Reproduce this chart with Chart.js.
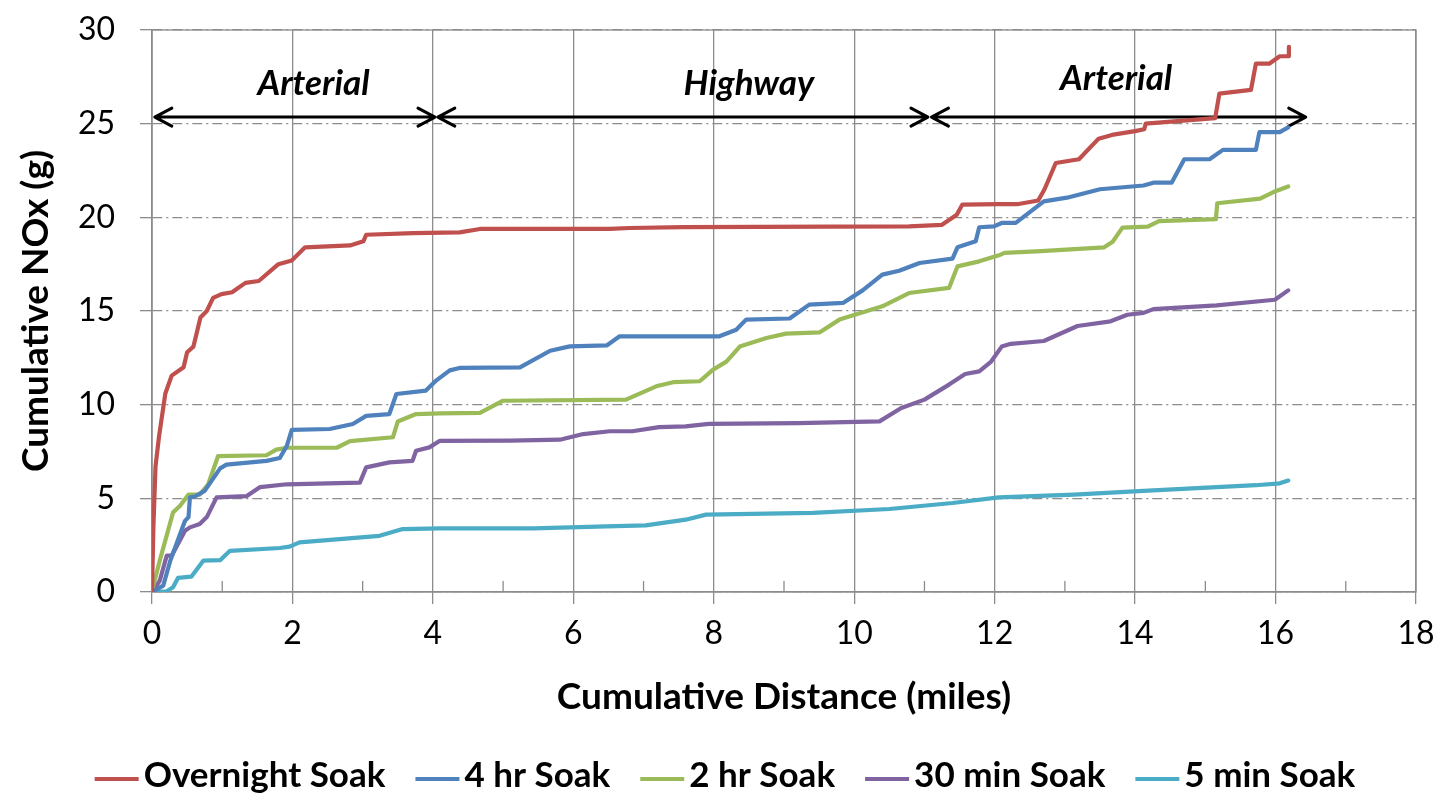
<!DOCTYPE html>
<html>
<head>
<meta charset="utf-8">
<script src="https://cdn.jsdelivr.net/npm/chart.js@4.4.1/dist/chart.umd.min.js"></script>
<style>
  html, body { margin: 0; padding: 0; background: #fff; }
  #wrap { width: 1450px; height: 800px; }
</style>
</head>
<body>
<div id="wrap"><canvas id="chart" width="1450" height="800"></canvas></div>
<script>
// series (miles, grams)
const seriesNames = ['Overnight Soak', '4 hr Soak', '2 hr Soak', '30 min Soak', '5 min Soak']
const seriesColors = ['#C0504D', '#4F81BD', '#9BBB59', '#8064A2', '#4BACC6']

const overnightX = [0, 0.02, 0.05, 0.1, 0.19, 0.28, 0.45, 0.5, 0.59, 0.69, 0.78, 0.87, 0.99, 1.14, 1.33, 1.52, 1.8, 1.99, 2.18, 2.82, 3.01, 3.05, 3.72, 4.38, 4.67, 6.52, 6.8, 7.56, 10.78, 11.25, 11.46, 11.54, 12.06, 12.32, 12.62, 12.71, 12.87, 13.2, 13.48, 13.67, 14.0, 14.13, 14.15, 15.14, 15.2, 15.65, 15.72, 15.91, 16.06, 16.18, 16.19]
const overnightY = [0, 3.5, 6.7, 8.3, 10.6, 11.55, 12.0, 12.8, 13.1, 14.65, 15.0, 15.7, 15.9, 16.0, 16.5, 16.6, 17.5, 17.7, 18.4, 18.5, 18.72, 19.07, 19.16, 19.2, 19.38, 19.38, 19.43, 19.48, 19.52, 19.6, 20.14, 20.68, 20.7, 20.7, 20.9, 21.5, 22.9, 23.1, 24.2, 24.4, 24.6, 24.7, 25.0, 25.3, 26.6, 26.8, 28.2, 28.2, 28.6, 28.6, 29.1]

const fourHrX = [0, 0.16, 0.26, 0.47, 0.52, 0.54, 0.61, 0.75, 0.97, 1.06, 1.63, 1.82, 1.92, 1.99, 2.53, 2.86, 3.05, 3.38, 3.48, 3.9, 4.05, 4.24, 4.38, 5.24, 5.67, 5.95, 6.48, 6.66, 8.08, 8.32, 8.46, 9.08, 9.36, 9.84, 10.12, 10.4, 10.64, 10.93, 11.4, 11.47, 11.73, 11.78, 11.99, 12.1, 12.3, 12.7, 13.03, 13.5, 14.12, 14.26, 14.52, 14.7, 15.06, 15.25, 15.72, 15.77, 16.06, 16.18]
const fourHrY = [0, 0.34, 1.67, 3.8, 4.0, 5.05, 5.1, 5.4, 6.6, 6.8, 7.0, 7.15, 7.8, 8.65, 8.7, 8.97, 9.4, 9.5, 10.57, 10.75, 11.3, 11.83, 11.96, 11.99, 12.88, 13.11, 13.17, 13.65, 13.65, 14.0, 14.54, 14.6, 15.34, 15.43, 16.1, 16.94, 17.15, 17.56, 17.8, 18.4, 18.72, 19.47, 19.52, 19.7, 19.7, 20.85, 21.05, 21.5, 21.7, 21.85, 21.85, 23.1, 23.1, 23.6, 23.6, 24.55, 24.55, 24.8]

const twoHrX = [0, 0.11, 0.3, 0.4, 0.52, 0.68, 0.8, 0.94, 1.63, 1.77, 1.92, 2.63, 2.82, 3.43, 3.5, 3.76, 4.1, 4.67, 5.0, 6.75, 7.18, 7.42, 7.8, 7.99, 8.18, 8.37, 8.75, 9.03, 9.51, 9.79, 10.4, 10.78, 11.35, 11.47, 11.78, 12.06, 12.14, 12.66, 13.56, 13.68, 13.82, 14.18, 14.34, 15.15, 15.17, 15.78, 15.97, 16.18]
const twoHrY = [0.05, 1.67, 4.25, 4.6, 5.2, 5.2, 5.75, 7.25, 7.3, 7.6, 7.7, 7.7, 8.05, 8.26, 9.1, 9.5, 9.54, 9.56, 10.21, 10.27, 10.98, 11.2, 11.25, 11.87, 12.3, 13.1, 13.56, 13.79, 13.86, 14.54, 15.25, 15.96, 16.23, 17.38, 17.65, 17.97, 18.1, 18.2, 18.4, 18.7, 19.45, 19.5, 19.8, 19.9, 20.75, 21.0, 21.35, 21.65]

const thirtyMinX = [0, 0.11, 0.21, 0.28, 0.47, 0.54, 0.68, 0.78, 0.92, 1.35, 1.54, 1.92, 2.96, 3.05, 3.38, 3.71, 3.76, 3.95, 4.1, 5.1, 5.81, 6.14, 6.52, 6.84, 7.22, 7.6, 7.93, 9.2, 10.36, 10.67, 11.0, 11.35, 11.58, 11.78, 11.95, 12.1, 12.23, 12.7, 12.94, 13.18, 13.65, 13.89, 14.12, 14.26, 15.16, 15.99, 16.18]
const thirtyMinY = [0, 0.6, 1.94, 1.94, 3.27, 3.45, 3.63, 4.0, 5.05, 5.12, 5.6, 5.75, 5.84, 6.65, 6.92, 7.0, 7.54, 7.72, 8.07, 8.08, 8.13, 8.43, 8.58, 8.58, 8.8, 8.84, 8.97, 9.02, 9.11, 9.82, 10.27, 11.07, 11.64, 11.78, 12.3, 13.1, 13.25, 13.4, 13.8, 14.2, 14.45, 14.8, 14.9, 15.1, 15.3, 15.6, 16.1]

const fiveMinX = [0, 0.21, 0.3, 0.37, 0.56, 0.73, 0.97, 1.11, 1.82, 1.96, 2.1, 3.24, 3.57, 4.1, 5.43, 6.47, 7.03, 7.6, 7.89, 9.41, 10.5, 11.4, 12.06, 13.13, 14.12, 15.72, 16.06, 16.18]
const fiveMinY = [0, 0.04, 0.25, 0.75, 0.82, 1.67, 1.7, 2.2, 2.35, 2.42, 2.65, 3.0, 3.36, 3.4, 3.4, 3.5, 3.56, 3.86, 4.13, 4.22, 4.43, 4.75, 5.05, 5.2, 5.4, 5.7, 5.8, 5.95]

// route segments (arrows) and their labels, in chart units
const segmentStart = [0.04, 4.07, 11.1]
const segmentEnd = [4.03, 11.05, 16.43]
const segmentY = 25.35
const segmentLabels = ['Arterial', 'Highway', 'Arterial']
const segmentLabelX = [2.3, 8.5, 13.73]
const segmentLabelY = [26.53, 26.55, 26.8]

const FONT = 'Lato'
const GRID = '#8c8c8c'

const xs = [overnightX, fourHrX, twoHrX, thirtyMinX, fiveMinX]
const ys = [overnightY, fourHrY, twoHrY, thirtyMinY, fiveMinY]

const datasets = seriesNames.map((label, i) => ({
    label,
    data: xs[i].map((x, j) => ({ x, y: ys[i][j] })),
    borderColor: seriesColors[i],
    backgroundColor: seriesColors[i],
    borderWidth: 4.2,
    borderJoinStyle: 'round',
    borderCapStyle: 'round',
    pointRadius: 0,
    tension: 0,
    fill: false,
}))

// plot frame, minor x ticks and the route arrows
const decorations = {
    id: 'decorations',
    beforeDatasetsDraw(chart) {
        const { ctx, chartArea: a, scales: { x, y } } = chart
        ctx.save()
        ctx.strokeStyle = GRID
        ctx.lineWidth = 1.3
        ctx.strokeRect(a.left, a.top, a.right - a.left, a.bottom - a.top)
        for (let v = 1; v < 18; v += 2) {
            const px = x.getPixelForValue(v)
            ctx.beginPath()
            ctx.moveTo(px, a.bottom)
            ctx.lineTo(px, a.bottom - 11)
            ctx.stroke()
        }

        ctx.strokeStyle = '#000'
        ctx.fillStyle = '#000'
        ctx.lineWidth = 3
        ctx.lineCap = 'round'
        ctx.lineJoin = 'round'
        const py = y.getPixelForValue(segmentY)
        segmentStart.forEach((s, i) => {
            const x0 = x.getPixelForValue(s)
            const x1 = x.getPixelForValue(segmentEnd[i])
            ctx.beginPath()
            ctx.moveTo(x0, py)
            ctx.lineTo(x1, py)
            ctx.moveTo(x0 + 17, py - 9)
            ctx.lineTo(x0, py)
            ctx.lineTo(x0 + 17, py + 9)
            ctx.moveTo(x1 - 17, py - 9)
            ctx.lineTo(x1, py)
            ctx.lineTo(x1 - 17, py + 9)
            ctx.stroke()
        })

        ctx.font = `italic bold 35px ${FONT}`
        ctx.textAlign = 'center'
        ctx.textBaseline = 'alphabetic'
        segmentLabels.forEach((t, i) => {
            ctx.fillText(t, x.getPixelForValue(segmentLabelX[i]), y.getPixelForValue(segmentLabelY[i]))
        })
        ctx.restore()
    }
}

// legend with a short line before each name
const lineLegend = {
    id: 'lineLegend',
    afterDraw(chart) {
        const ctx = chart.ctx
        ctx.save()
        ctx.font = `bold 35px ${FONT}`
        ctx.textBaseline = 'middle'
        ctx.textAlign = 'left'
        const lineLen = 44, gap = 5, itemGap = 30, cy = 776
        const widths = chart.data.datasets.map(d => ctx.measureText(d.label).width)
        const total = widths.reduce((s, w) => s + lineLen + gap + w, 0) + itemGap * (widths.length - 1)
        let left = chart.width / 2 - total / 2
        chart.data.datasets.forEach((d, i) => {
            ctx.strokeStyle = d.borderColor
            ctx.lineWidth = 4
            ctx.beginPath()
            ctx.moveTo(left, cy + 3)
            ctx.lineTo(left + lineLen, cy + 3)
            ctx.stroke()
            ctx.fillStyle = '#000'
            ctx.fillText(d.label, left + lineLen + gap, cy)
            left += lineLen + gap + widths[i] + itemGap
        })
        ctx.restore()
    }
}

new Chart(document.getElementById('chart').getContext('2d'), {
    type: 'line',
    data: { datasets },
    options: {
        responsive: false,
        animation: false,
        devicePixelRatio: 1,
        layout: { padding: { left: 0, top: 30, right: 34, bottom: 0 } },
        plugins: { legend: { display: false }, tooltip: { enabled: false } },
        scales: {
            x: {
                type: 'linear', min: 0, max: 18,
                ticks: { stepSize: 2, color: '#000', font: { family: FONT, size: 32 }, padding: 10 },
                grid: { color: GRID, lineWidth: 1.3, tickLength: 12 },
                border: { color: GRID, width: 1.3 },
                title: {
                    display: true, text: 'Cumulative Distance (miles)', color: '#000',
                    font: { family: FONT, size: 37, weight: 'bold' }, padding: { top: 0, bottom: 81 },
                },
                afterFit: s => { s.height = 208; s.paddingLeft = 0; s.paddingRight = 0 },
            },
            y: {
                type: 'linear', min: 0, max: 30,
                ticks: { stepSize: 5, color: '#000', font: { family: FONT, size: 32 }, padding: 25 },
                grid: { color: GRID, lineWidth: 1.3, tickLength: 12 },
                border: { color: GRID, width: 1.3, dash: [10, 4, 2, 4] },
                title: {
                    display: true, text: 'Cumulative NOx (g)', color: '#000',
                    font: { family: FONT, size: 37, weight: 'bold' }, padding: { top: 14, bottom: 0 },
                },
                afterFit: s => { s.width = 152; s.paddingTop = 0; s.paddingBottom = 0 },
            },
        },
    },
    plugins: [decorations, lineLegend],
})
</script>
</body>
</html>
